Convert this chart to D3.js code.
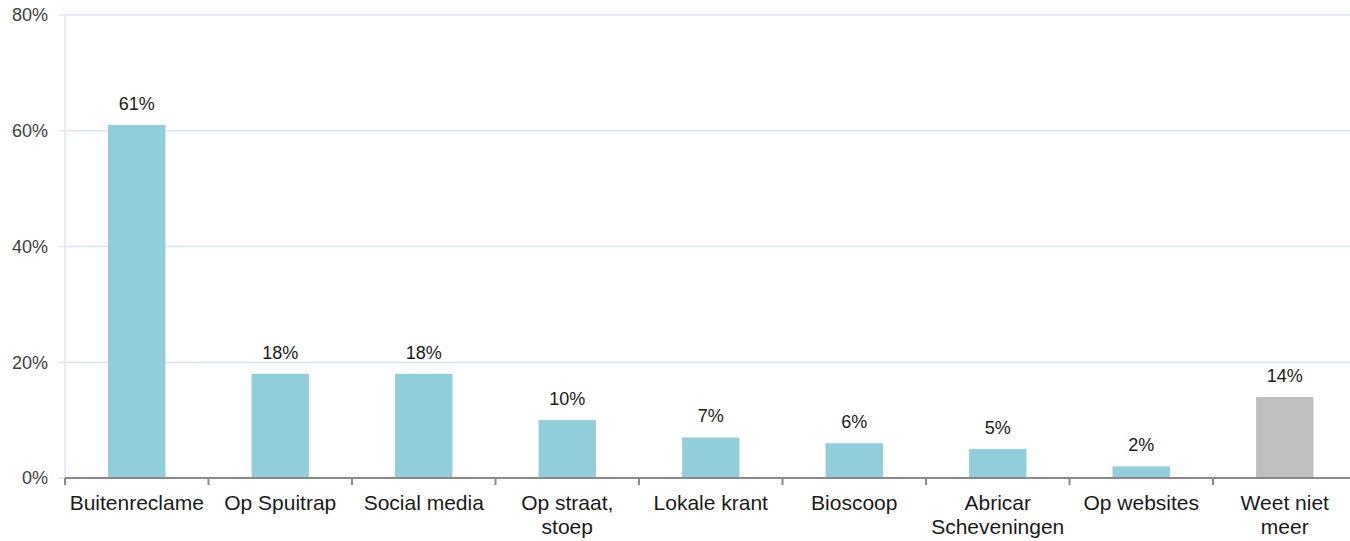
<!DOCTYPE html>
<html>
<head>
<meta charset="utf-8">
<script src="https://cdn.jsdelivr.net/npm/d3@7"></script>
<style>
  html, body { margin: 0; padding: 0; background: #fff; }
  svg { display: block; font-family: "Liberation Sans", Arial, sans-serif; }
</style>
</head>
<body>
<svg id="chart" width="1350" height="541"></svg>
<script>
// Categories (line breaks mark where the axis label wraps)
const categories = [
  "Buitenreclame",
  "Op Spuitrap",
  "Social media",
  "Op straat,\nstoep",
  "Lokale krant",
  "Bioscoop",
  "Abricar\nScheveningen",
  "Op websites",
  "Weet niet\nmeer"
];
const values = [61, 18, 18, 10, 7, 6, 5, 2, 14];
const barColors = ["#92cddc", "#92cddc", "#92cddc", "#92cddc", "#92cddc", "#92cddc", "#92cddc", "#92cddc", "#bfbfbf"];
const yTicks = [0, 20, 40, 60, 80];

const svg = d3.select("#chart");
const plotLeft = 65, plotRight = 1356.5, plotTop = 15, plotBottom = 478;

const x = d3.scaleBand()
  .domain(categories)
  .range([plotLeft, plotRight])
  .paddingInner(0.6)
  .paddingOuter(0.3);

const y = d3.scaleLinear().domain([0, 80]).range([plotBottom, plotTop]);

// Horizontal gridlines with short ticks to the left
svg.append("g").selectAll("line")
  .data(yTicks.filter(d => d > 0))
  .join("line")
  .attr("x1", plotLeft - 6)
  .attr("x2", 1350)
  .attr("y1", d => y(d))
  .attr("y2", d => y(d))
  .attr("stroke", "#dce6f2")
  .attr("stroke-width", 1.5);

// Vertical y axis line
svg.append("line")
  .attr("x1", plotLeft).attr("x2", plotLeft)
  .attr("y1", plotTop).attr("y2", plotBottom)
  .attr("stroke", "#dce6f2")
  .attr("stroke-width", 1.5);

svg.append("line")
  .attr("x1", plotLeft - 6).attr("x2", plotLeft)
  .attr("y1", plotBottom).attr("y2", plotBottom)
  .attr("stroke", "#dce6f2")
  .attr("stroke-width", 1.5);

// Y tick labels
svg.append("g").selectAll("text")
  .data(yTicks)
  .join("text")
  .attr("x", 48)
  .attr("y", d => y(d))
  .attr("dy", "0.35em")
  .attr("text-anchor", "end")
  .attr("font-size", 18)
  .attr("fill", "#404040")
  .text(d => d + "%");

// Bars
svg.append("g").selectAll("rect")
  .data(values)
  .join("rect")
  .attr("x", (d, i) => x(categories[i]))
  .attr("width", x.bandwidth())
  .attr("y", d => y(d))
  .attr("height", d => y(0) - y(d))
  .attr("fill", (d, i) => barColors[i]);

// Value labels
svg.append("g").selectAll("text")
  .data(values)
  .join("text")
  .attr("x", (d, i) => x(categories[i]) + x.bandwidth() / 2)
  .attr("y", d => y(d) - 15)
  .attr("text-anchor", "middle")
  .attr("font-size", 18)
  .attr("fill", "#1a1a1a")
  .text(d => d + "%");

// X axis line and category boundary ticks
svg.append("line")
  .attr("x1", plotLeft).attr("x2", 1350)
  .attr("y1", plotBottom).attr("y2", plotBottom)
  .attr("stroke", "#898989")
  .attr("stroke-width", 2);

const step = x.step();
svg.append("g").selectAll("line")
  .data(d3.range(categories.length))
  .join("line")
  .attr("x1", i => plotLeft + i * step)
  .attr("x2", i => plotLeft + i * step)
  .attr("y1", plotBottom)
  .attr("y2", plotBottom + 7)
  .attr("stroke", "#898989")
  .attr("stroke-width", 2);

// Category labels
const labels = svg.append("g").selectAll("text")
  .data(categories)
  .join("text")
  .attr("x", d => x(d) + x.bandwidth() / 2)
  .attr("y", 510)
  .attr("text-anchor", "middle")
  .attr("font-size", 21)
  .attr("fill", "#1a1a1a");

labels.each(function(d) {
  const t = d3.select(this);
  d.split("\n").forEach((line, k) => {
    t.append("tspan")
      .attr("x", x(d) + x.bandwidth() / 2)
      .attr("dy", k === 0 ? 0 : 24)
      .text(line);
  });
});
</script>
</body>
</html>
